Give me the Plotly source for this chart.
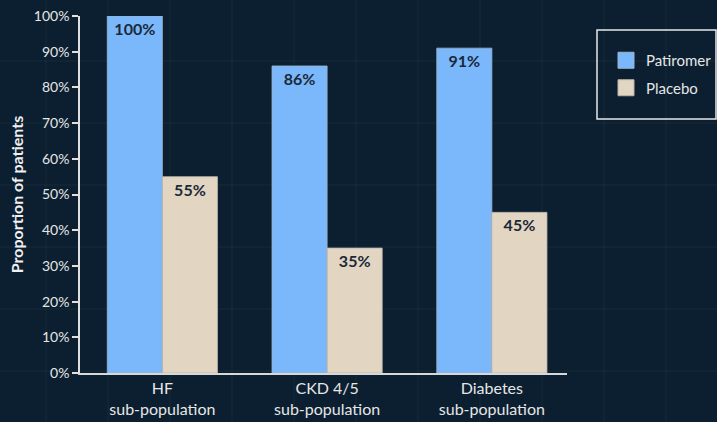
import plotly.graph_objects as go

# Data
categories = ["HF<br>sub-population", "CKD 4/5<br>sub-population", "Diabetes<br>sub-population"]
patiromer = [100, 86, 91]
placebo = [55, 35, 45]
y_ticks = list(range(0, 101, 10))
y_tick_labels = [f"{v}%" for v in y_ticks]

W, H = 717, 422
M_L, M_R, M_T, M_B = 80, 0, 16, 49
AXIS_RIGHT = 567  # pixel where the x axis line ends
BG = "#0b1f30"
FONT = "Lato"
BLUE, BEIGE = "#7ab8fb", "#e2d6c3"

pw = W - M_L - M_R
ph = H - M_T - M_B


def px_x(px):
    return (px - M_L) / pw


def px_y(py):
    return (H - M_B - py) / ph


fig = go.Figure()
for name, vals, color, edge in [("Patiromer", patiromer, BLUE, "#9cb4cc"),
                                ("Placebo", placebo, BEIGE, "#b9b3aa")]:
    fig.add_trace(go.Bar(
        name=name, x=categories, y=vals, showlegend=False,
        marker=dict(color=color, line=dict(color=edge, width=0.8)),
        text=[f"{v}%" for v in vals], textposition="inside", insidetextanchor="end",
        textfont=dict(family=FONT, size=16, color="#1b2838", weight="bold"),
        textangle=0,
    ))
    # legend entries with larger square swatches
    fig.add_trace(go.Scatter(
        name=name, x=[None], y=[None], mode="markers", legendgroup=name,
        marker=dict(symbol="square", size=16, color=color, line=dict(color=edge, width=1)),
    ))

# faint blueprint-style background grid (pixel spacing ~62)
shapes = []
for px in range(46, W, 62):
    shapes.append(dict(type="line", xref="paper", yref="paper", x0=px_x(px), x1=px_x(px),
                       y0=px_y(H), y1=px_y(0),
                       line=dict(color="rgba(255,255,255,0.05)", width=1), layer="below"))
for py in range(-1, H, 62):
    shapes.append(dict(type="line", xref="paper", yref="paper", y0=px_y(py), y1=px_y(py),
                       x0=px_x(0), x1=px_x(W),
                       line=dict(color="rgba(255,255,255,0.05)", width=1), layer="below"))
# legend frame
shapes.append(dict(type="rect", xref="paper", yref="paper",
                   x0=px_x(597), x1=px_x(716), y0=px_y(119), y1=px_y(30),
                   line=dict(color="#e8e8e8", width=1.5), fillcolor="rgba(0,0,0,0)"))

fig.update_layout(
    width=W, height=H,
    margin=dict(l=M_L, r=M_R, t=M_T, b=M_B),
    paper_bgcolor=BG, plot_bgcolor=BG,
    font=dict(family=FONT, color="#e6e6e6"),
    barmode="group", bargap=0.331, bargroupgap=0,
    showlegend=True,
    legend=dict(
        x=px_x(606), y=px_y(44), xanchor="left", yanchor="top",
        bgcolor="rgba(0,0,0,0)", borderwidth=0,
        font=dict(family=FONT, size=15, color="#e6e6e6"),
        itemwidth=30, tracegroupgap=5, itemsizing="trace",
    ),
    shapes=shapes,
    xaxis=dict(
        domain=[0, px_x(AXIS_RIGHT)],
        range=[-0.5, 2.456], showgrid=False, showline=True, linecolor="#d8d8d8", linewidth=2,
        tickfont=dict(family=FONT, size=16, color="#e6e6e6"), ticks="", zeroline=False,
        automargin=False,
    ),
    yaxis=dict(
        range=[0, 100], tickvals=y_ticks, ticktext=y_tick_labels,
        showgrid=False, zeroline=False, showline=True, linecolor="#e0e0e0", linewidth=1.5,
        ticks="outside", ticklen=6, tickcolor="#e0e0e0", tickwidth=1.5,
        tickfont=dict(family=FONT, size=14, color="#e6e6e6"), automargin=False,
        title=dict(text="<b>Proportion of patients</b>", font=dict(family=FONT, size=16, color="#f0f0f0"), standoff=6),
    ),
)

fig.write_html("out.html")
